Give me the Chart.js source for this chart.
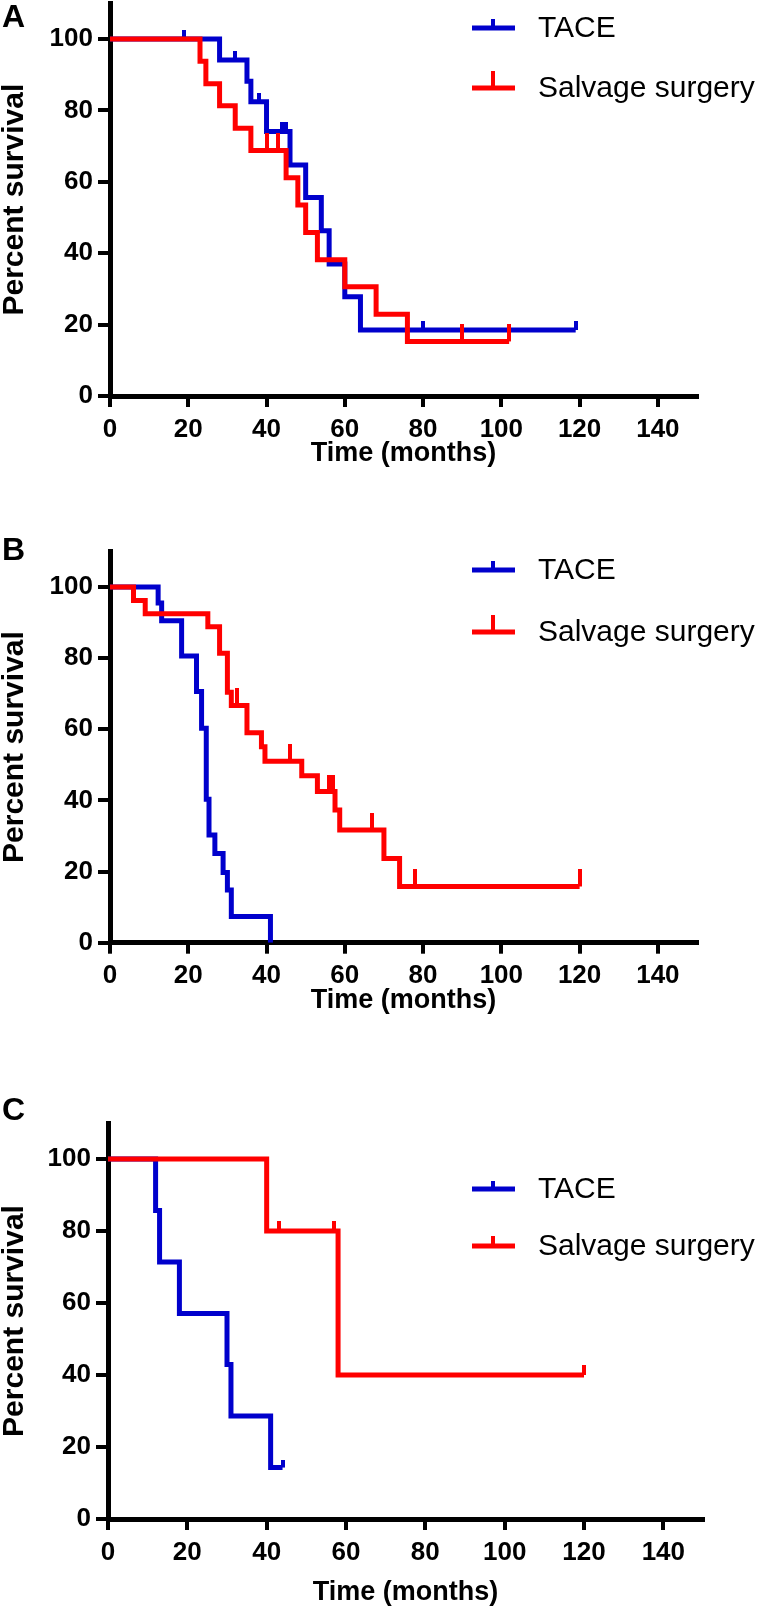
<!DOCTYPE html>
<html><head><meta charset="utf-8">
<script src="https://cdn.jsdelivr.net/npm/chart.js@4"></script>
<style>
html,body{margin:0;padding:0;background:#fff;width:765px;height:1616px;overflow:hidden;position:relative;}
canvas{position:absolute;left:0;}
</style></head><body>
<canvas id="cA" width="765" height="520" style="top:-20px"></canvas>
<canvas id="cB" width="765" height="520" style="top:520px"></canvas>
<canvas id="cC" width="765" height="556" style="top:1060px"></canvas>
<script>
// ---------- DATA ----------
const seriesNames = ['TACE', 'Salvage surgery'];
const xTicks = [0, 20, 40, 60, 80, 100, 120, 140];
const yTicks = [0, 20, 40, 60, 80, 100];

// Panel A
const A_TACE_time = [0, 28, 35, 36, 40, 46, 50, 54, 56, 60, 64, 119];
const A_TACE_surv = [100, 94.1, 88.2, 82.4, 74.1, 64.7, 55.6, 46.3, 37.0, 27.8, 18.5, 18.5];
const A_TACE_cens = [19, 32, 38, 44, 45, 80, 119];
const A_SS_time = [0, 23, 24.5, 28, 32, 36, 45, 48, 50, 53, 60, 68, 76, 102];
const A_SS_surv = [100, 93.8, 87.5, 81.3, 75, 68.8, 61.1, 53.5, 45.8, 38.2, 30.6, 22.9, 15.3, 15.3];
const A_SS_cens = [40, 43, 90, 102];

// Panel B
const B_TACE_time = [0, 12.3, 13.2, 18.3, 22.1, 23.4, 24.6, 25.3, 26.8, 28.9, 30, 31, 41];
const B_TACE_surv = [100, 95.5, 90.5, 80.6, 70.6, 60.3, 40.3, 30.3, 25.1, 19.7, 14.8, 7.4, 0];
const B_TACE_cens = [];
const B_SS_time = [0, 6, 9, 25, 28, 30, 31, 35, 38.7, 39.6, 49, 53, 57.5, 58.7, 70, 74, 120];
const B_SS_surv = [100, 96.2, 92.5, 88.8, 81.4, 70.4, 66.7, 59.0, 55.1, 51.0, 46.9, 42.5, 37.3, 31.7, 23.7, 15.8, 15.8];
const B_SS_cens = [32.5, 46, 56, 57, 67, 78, 120];

// Panel C
const C_TACE_time = [0, 12, 13, 18, 30, 31, 41, 44];
const C_TACE_surv = [100, 85.7, 71.4, 57.1, 42.9, 28.6, 14.3, 14.3];
const C_TACE_cens = [44];
const C_SS_time = [0, 40, 58, 120];
const C_SS_surv = [100, 80, 40, 40];
const C_SS_cens = [43, 57, 120];

// ---------- STYLE ----------
const BLUE = '#0000CC', RED = '#FF0000';
const FONT = '"Liberation Sans", Arial, Helvetica, sans-serif';

function tickImage(color, h, w) {
  const c = document.createElement('canvas');
  c.width = w; c.height = 2 * h;
  const g = c.getContext('2d');
  g.fillStyle = color; g.fillRect(0, 0, w, h);
  return c;
}
function survAt(times, surv, t) {
  let v = surv[0];
  for (let i = 0; i < times.length; i++) if (times[i] <= t) v = surv[i];
  return v;
}
function pts(times, surv) { return times.map((t, i) => ({x: t, y: surv[i]})); }
function censPts(cens, times, surv) { return cens.map(t => ({x: t, y: survAt(times, surv, t)})); }

const decor = {
  id: 'kmDecor',
  afterDraw(chart, args, o) {
    const ctx = chart.ctx;
    ctx.save();
    ctx.fillStyle = '#000';
    ctx.font = 'bold 32px ' + FONT;
    ctx.textBaseline = 'middle'; ctx.textAlign = 'left';
    ctx.fillText(o.letter, 2, o.letterY);
    const items = [[BLUE, o.legY1, o.tickB, seriesNames[0]], [RED, o.legY2, o.tickR, seriesNames[1]]];
    items.forEach(([col, y, th, txt]) => {
      ctx.strokeStyle = col; ctx.lineWidth = 5; ctx.lineCap = 'butt';
      ctx.beginPath(); ctx.moveTo(472, y); ctx.lineTo(515, y); ctx.stroke();
      ctx.fillStyle = col; ctx.fillRect(491, y - th, 4, th);
      ctx.fillStyle = '#000';
      ctx.font = '30px ' + FONT;
      ctx.fillText(txt, 538, y + 1);
    });
    ctx.restore();
  }
};

function makeChart(id, cfg, d) {
  const xTitleSize = 27;
  const Hx = cfg.titleOff + xTitleSize * 1.2 / 2;
  const tB = tickImage(BLUE, cfg.tickB, 4), tR = tickImage(RED, cfg.tickR, 4);
  return new Chart(document.getElementById(id), {
    type: 'scatter',
    data: {
      datasets: [
        {label: seriesNames[1] + ' censored', data: censPts(d.sc, d.st, d.ss), showLine: false, pointStyle: tR, pointRadius: 5},
        {label: seriesNames[1], data: pts(d.st, d.ss), showLine: true, stepped: 'before', borderColor: RED, borderWidth: 5, pointRadius: 0, fill: false},
        {label: seriesNames[0] + ' censored', data: censPts(d.tc, d.tt, d.ts), showLine: false, pointStyle: tB, pointRadius: 5},
        {label: seriesNames[0], data: pts(d.tt, d.ts), showLine: true, stepped: 'before', borderColor: BLUE, borderWidth: 5, pointRadius: 0, fill: false}
      ]
    },
    options: {
      responsive: false, animation: false, devicePixelRatio: 1,
      layout: {padding: {left: 0, right: 765 - cfg.right, top: cfg.top, bottom: cfg.H - cfg.bottom - Hx}},
      plugins: {legend: {display: false}, tooltip: {enabled: false},
        kmDecor: {letter: cfg.letter, letterY: cfg.letterY, legY1: cfg.legY1, legY2: cfg.legY2, tickB: cfg.tickB, tickR: cfg.tickR}},
      scales: {
        x: {
          type: 'linear', min: 0, max: 150,
          afterFit(s) { s.height = Hx; },
          afterBuildTicks(s) { s.ticks = xTicks.map(v => ({value: v})); },
          ticks: {color: '#000', font: {family: FONT, size: 26, weight: 'bold'}, padding: 7, maxRotation: 0, autoSkip: false},
          grid: {drawOnChartArea: false, tickLength: 11, tickWidth: 4, color: '#000', lineWidth: 4},
          border: {width: 5, color: '#000'},
          title: {display: true, text: 'Time (months)', color: '#000', font: {family: FONT, size: xTitleSize, weight: 'bold', lineHeight: 1.2}, padding: 0}
        },
        y: {
          type: 'linear', min: 0, max: 110,
          afterFit(s) { s.width = cfg.left; },
          afterBuildTicks(s) { s.ticks = yTicks.map(v => ({value: v})); },
          ticks: {color: '#000', font: {family: FONT, size: 26, weight: 'bold'}, padding: 5},
          grid: {drawOnChartArea: false, tickLength: 12, tickWidth: 4, color: '#000', lineWidth: 4},
          border: {width: 5, color: '#000'},
          title: {display: true, text: 'Percent survival', color: '#000', font: {family: FONT, size: 30, weight: 'bold', lineHeight: 1.0}, padding: {top: 0, bottom: 0}}
        }
      }
    },
    plugins: [decor]
  });
}

// canvas-local geometry (canvas A starts at -20, B at 520, C at 1060)
makeChart('cA', {H: 520, left: 110, right: 697, top: 23.3, bottom: 416, titleOff: 58, letter: 'A', letterY: 38, legY1: 48, legY2: 108, tickB: 9, tickR: 17},
  {tt: A_TACE_time, ts: A_TACE_surv, tc: A_TACE_cens, st: A_SS_time, ss: A_SS_surv, sc: A_SS_cens});
makeChart('cB', {H: 520, left: 110, right: 697, top: 31.4, bottom: 422.7, titleOff: 58, letter: 'B', letterY: 31, legY1: 50, legY2: 112, tickB: 9, tickR: 17},
  {tt: B_TACE_time, ts: B_TACE_surv, tc: B_TACE_cens, st: B_SS_time, ss: B_SS_surv, sc: B_SS_cens});
makeChart('cC', {H: 556, left: 108, right: 703, top: 63, bottom: 459, titleOff: 74, letter: 'C', letterY: 51, legY1: 129, legY2: 186, tickB: 8, tickR: 10},
  {tt: C_TACE_time, ts: C_TACE_surv, tc: C_TACE_cens, st: C_SS_time, ss: C_SS_surv, sc: C_SS_cens});
</script>
</body></html>
